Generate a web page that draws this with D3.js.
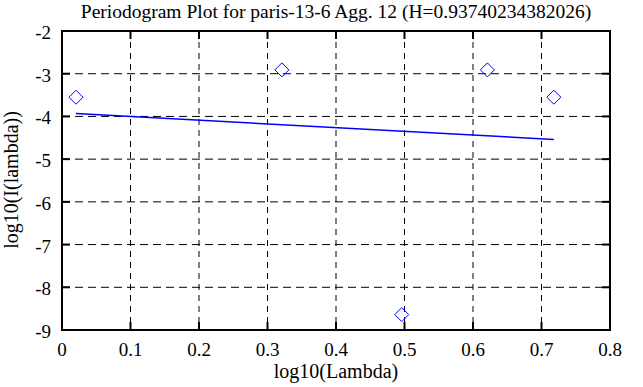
<!DOCTYPE html>
<html>
<head>
<meta charset="utf-8">
<script src="https://cdn.jsdelivr.net/npm/d3@7"></script>
<style>
  body { margin: 0; background: #fff; }
  text { font-family: "Liberation Serif", "DejaVu Serif", serif; fill: #000; }
</style>
</head>
<body>
<svg id="chart" width="643" height="387"></svg>
<script>
// data
const xs = [0.0204, 0.321, 0.496, 0.621, 0.718];
const ys = [-3.55, -2.91, -8.64, -2.91, -3.55];
const fitX = [0.0204, 0.718];
const fitY = [-3.93, -4.54];
const xTicks = [0, 0.1, 0.2, 0.3, 0.4, 0.5, 0.6, 0.7, 0.8];
const yTicks = [-9, -8, -7, -6, -5, -4, -3, -2];
const title = "Periodogram Plot for paris-13-6 Agg. 12 (H=0.93740234382026)";

const svg = d3.select("#chart");
const plotL = 62, plotR = 610, plotT = 31, plotB = 330;

const x = d3.scaleLinear().domain([0, 0.8]).range([plotL, plotR]);
const y = d3.scaleLinear().domain([-9, -2]).range([plotB, plotT]);

// grid
svg.selectAll(".vgrid")
    .data(xTicks.slice(1, -1))
    .enter()
    .append("line")
    .attr("x1", d => x(d)).attr("x2", d => x(d))
    .attr("y1", plotT).attr("y2", plotB)
    .style("stroke", "black")
    .style("stroke-dasharray", "6,5");

svg.selectAll(".hgrid")
    .data(yTicks.slice(1, -1))
    .enter()
    .append("line")
    .attr("y1", d => y(d)).attr("y2", d => y(d))
    .attr("x1", plotL).attr("x2", plotR)
    .style("stroke", "black")
    .style("stroke-dasharray", "8,5");

// small tick marks on the frame
svg.selectAll(".ytickL")
    .data(yTicks.slice(1, -1))
    .enter()
    .append("line")
    .attr("x1", plotL).attr("x2", plotL + 8)
    .attr("y1", d => y(d)).attr("y2", d => y(d))
    .style("stroke", "black").style("stroke-width", 2);
svg.selectAll(".ytickR")
    .data(yTicks.slice(1, -1))
    .enter()
    .append("line")
    .attr("x1", plotR - 8).attr("x2", plotR)
    .attr("y1", d => y(d)).attr("y2", d => y(d))
    .style("stroke", "black").style("stroke-width", 2);
svg.selectAll(".xtickB")
    .data(xTicks.slice(1, -1))
    .enter()
    .append("line")
    .attr("x1", d => x(d)).attr("x2", d => x(d))
    .attr("y1", plotB - 8).attr("y2", plotB)
    .style("stroke", "black").style("stroke-width", 2);
svg.selectAll(".xtickT")
    .data(xTicks.slice(1, -1))
    .enter()
    .append("line")
    .attr("x1", d => x(d)).attr("x2", d => x(d))
    .attr("y1", plotT).attr("y2", plotT + 8)
    .style("stroke", "black").style("stroke-width", 2);

// frame
svg.append("rect")
    .attr("x", plotL).attr("y", plotT)
    .attr("width", plotR - plotL).attr("height", plotB - plotT)
    .style("fill", "none")
    .style("stroke", "black")
    .style("stroke-width", 2);

// tick labels
svg.selectAll(".xlab")
    .data(xTicks)
    .enter()
    .append("text")
    .attr("x", d => x(d))
    .attr("y", plotB + 26)
    .attr("text-anchor", "middle")
    .style("font-size", "19px")
    .text(d => String(d));

svg.selectAll(".ylab")
    .data(yTicks)
    .enter()
    .append("text")
    .attr("x", plotL - 11)
    .attr("y", d => y(d) + 8)
    .attr("text-anchor", "end")
    .style("font-size", "19px")
    .text(d => String(d));

// fit line
svg.append("line")
    .attr("x1", x(fitX[0])).attr("y1", y(fitY[0]))
    .attr("x2", x(fitX[1])).attr("y2", y(fitY[1]))
    .style("stroke", "#0000ff")
    .style("stroke-width", 1.5);

// points as diamonds
svg.selectAll(".point")
    .data(xs.map((v, i) => [v, ys[i]]))
    .enter()
    .append("path")
    .attr("d", d => {
        const cx = x(d[0]), cy = y(d[1]), r = 7;
        return `M${cx},${cy - r}L${cx + r},${cy}L${cx},${cy + r}L${cx - r},${cy}Z`;
    })
    .style("fill", "none")
    .style("stroke", "#0000ff")
    .style("stroke-width", 1);

// titles
svg.append("text")
    .attr("x", 336).attr("y", 18)
    .attr("text-anchor", "middle")
    .style("font-size", "19.5px")
    .text(title);

svg.append("text")
    .attr("x", 336).attr("y", 378)
    .attr("text-anchor", "middle")
    .style("font-size", "20px")
    .text("log10(Lambda)");

svg.append("text")
    .attr("transform", "translate(18,180) rotate(-90)")
    .attr("text-anchor", "middle")
    .style("font-size", "20px")
    .text("log10(I(lambda))");
</script>
</body>
</html>
